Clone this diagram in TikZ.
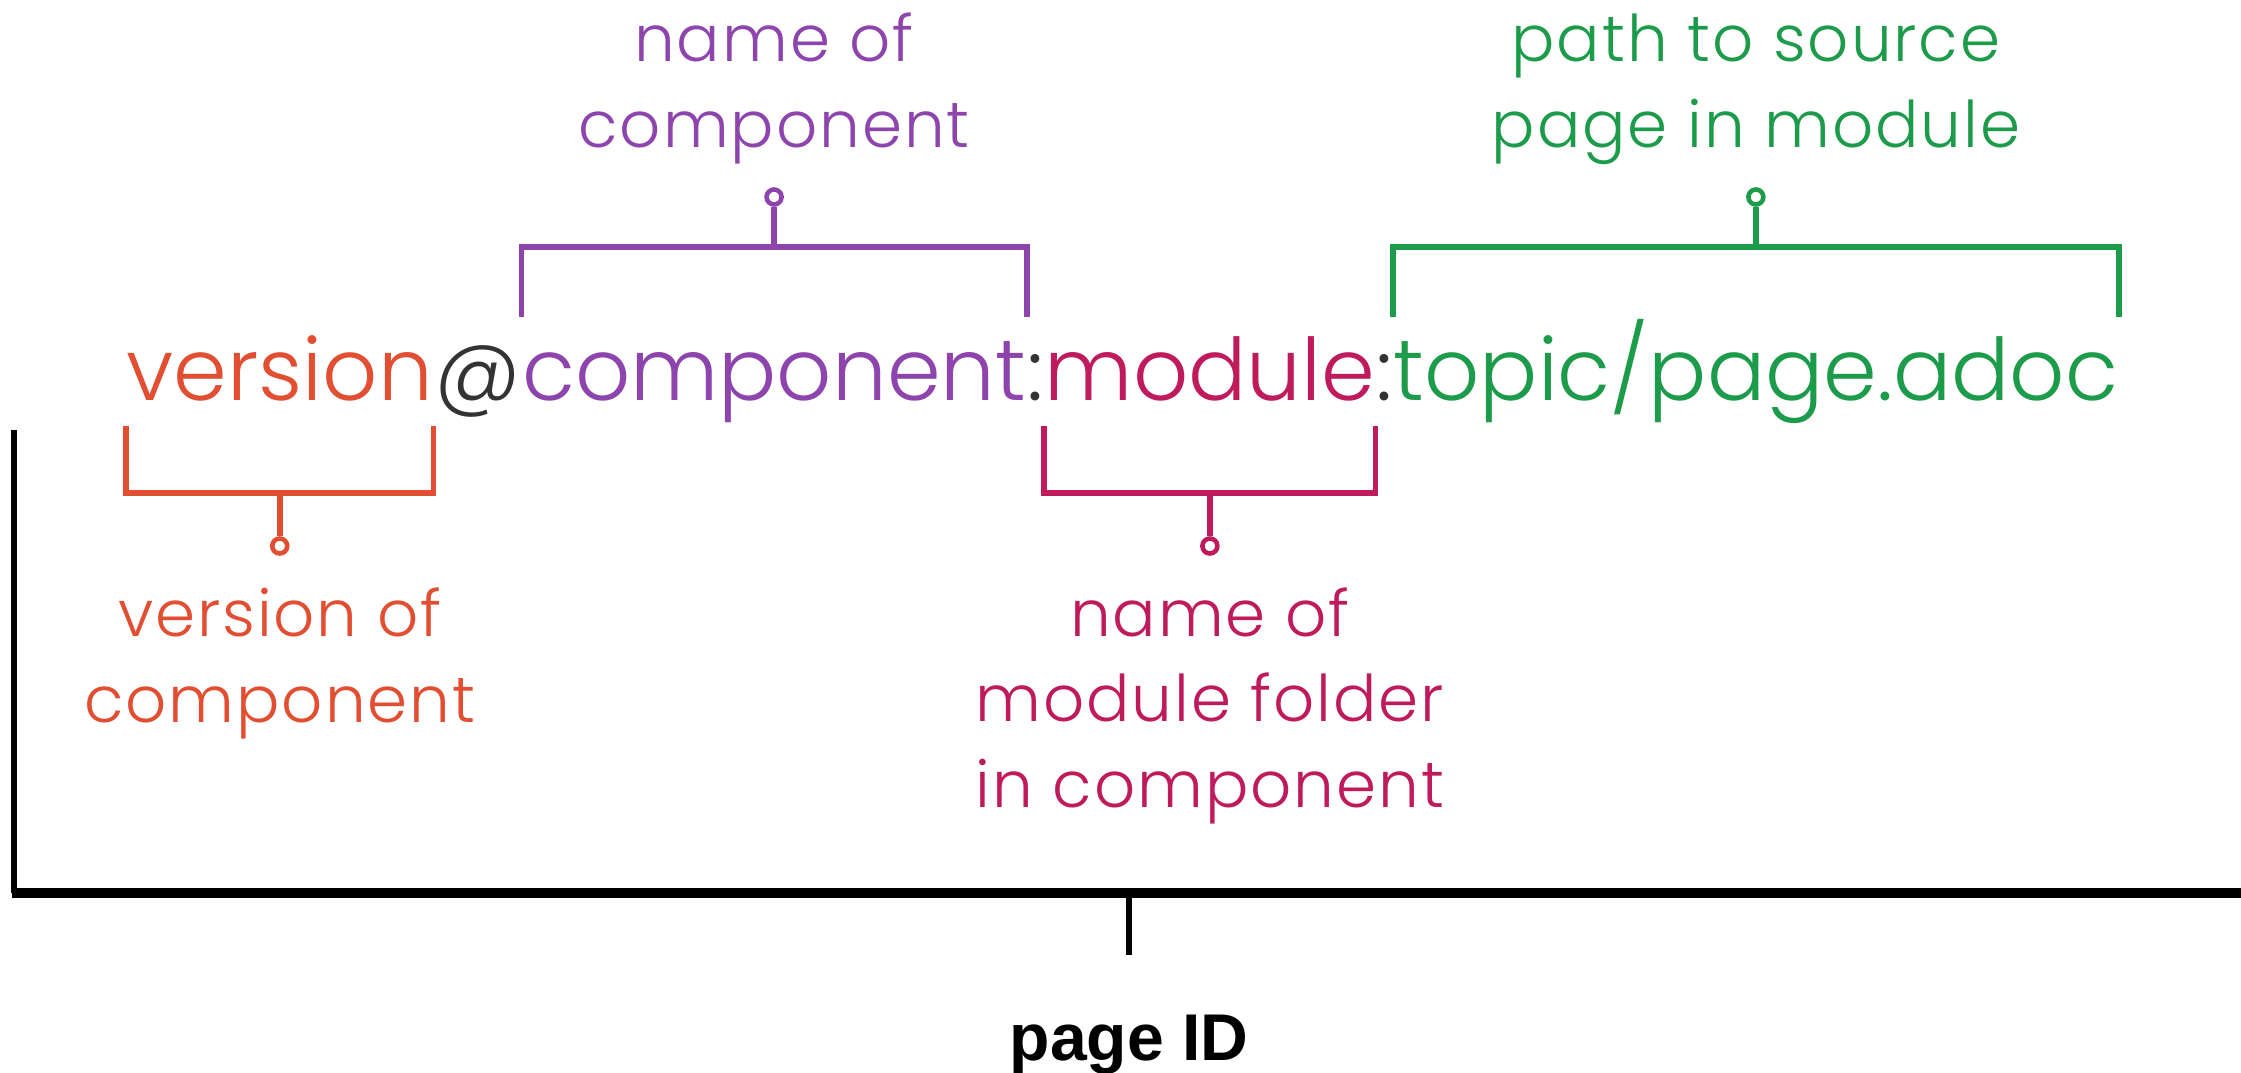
\documentclass[tikz,border=0pt]{standalone}
\usepackage{fontspec}
\setmainfont{Poppins Light}
\newfontfamily\lblfont{Poppins Light}[LetterSpace=3]
\newfontfamily\idfont{Liberation Sans}
\usetikzlibrary{positioning}

\definecolor{vercol}{HTML}{E24E31}
\definecolor{compcol}{HTML}{8E44AD}
\definecolor{modcol}{HTML}{BF1B5C}
\definecolor{pathcol}{HTML}{1C9B4A}
\definecolor{sepcol}{HTML}{333333}

\tikzset{
  part/.style={anchor=base west, inner sep=0pt, font=\fontsize{24.55}{29}\selectfont},
  brk/.style={line width=1.6pt},
  dot/.style={circle, fill=white, line width=1.3pt, minimum size=0.15cm, inner sep=0pt},
  lbl/.style={anchor=base, align=center, inner sep=0pt, font=\lblfont\fontsize{18.3}{24.2}\selectfont},
}

\begin{document}
\begin{tikzpicture}[x=0.01cm, y=-0.01cm]
\useasboundingbox (0,0) rectangle (2241,1072);

% the resource id, one node for each part
\node[part, text=vercol] (ver) at (126,400) {version};
\node[part, text=sepcol, base right=0pt of ver] (at) {@};
\node[part, text=compcol, base right=0pt of at] (comp) {component};
\node[part, text=sepcol, base right=0pt of comp] (col1) {:};
\node[part, text=modcol, base right=0pt of col1] (mod) {module};
\node[part, text=sepcol, base right=0pt of mod] (col2) {:};
\node[part, text=pathcol, base right=0pt of col2] (path) {topic/page.adoc};

% brackets above
\draw[brk, compcol] (comp.west |- 0,317) -- (comp.west |- 0,247) -- (comp.east |- 0,247) -- (comp.east |- 0,317);
\node[dot, draw=compcol] (compdot) at (comp.base |- 0,197) {};
\draw[brk, compcol] (compdot) -- (compdot |- 0,247);
\node[lbl, text=compcol] (complbl) at (comp.base |- 0,147) {name of\\component};

\draw[brk, pathcol] (path.west |- 0,317) -- (path.west |- 0,247) -- (path.east |- 0,247) -- (path.east |- 0,317);
\node[dot, draw=pathcol] (pathdot) at (path.base |- 0,197) {};
\draw[brk, pathcol] (pathdot) -- (pathdot |- 0,247);
\node[lbl, text=pathcol] (pathlbl) at (path.base |- 0,147) {path to source\\page in module};

% brackets below
\draw[brk, vercol] (ver.west |- 0,426) -- (ver.west |- 0,493) -- (ver.east |- 0,493) -- (ver.east |- 0,426);
\node[dot, draw=vercol] (verdot) at (ver.base |- 0,546) {};
\draw[brk, vercol] (verdot) -- (verdot |- 0,493);
\node[lbl, text=vercol] (verlbl) at (ver.base |- 0,722) {version of\\component};

\draw[brk, modcol] (mod.west |- 0,426) -- (mod.west |- 0,493) -- (mod.east |- 0,493) -- (mod.east |- 0,426);
\node[dot, draw=modcol] (moddot) at (mod.base |- 0,546) {};
\draw[brk, modcol] (moddot) -- (moddot |- 0,493);
\node[lbl, text=modcol] (modlbl) at (mod.base |- 0,807) {name of\\module folder\\in component};

% page id
\node[anchor=base, inner sep=0pt, font=\idfont\bfseries\fontsize{18.8}{22}\selectfont] (pid) at (1129,1060) {page ID};
\draw[line width=1.6pt] (14,430) -- (14,893);
\draw[line width=2.7pt] (12,893) -- (2241,893);
\draw[line width=1.6pt] (pid.north |- 0,893) -- (pid.north |- 0,955);

\end{tikzpicture}
\end{document}
